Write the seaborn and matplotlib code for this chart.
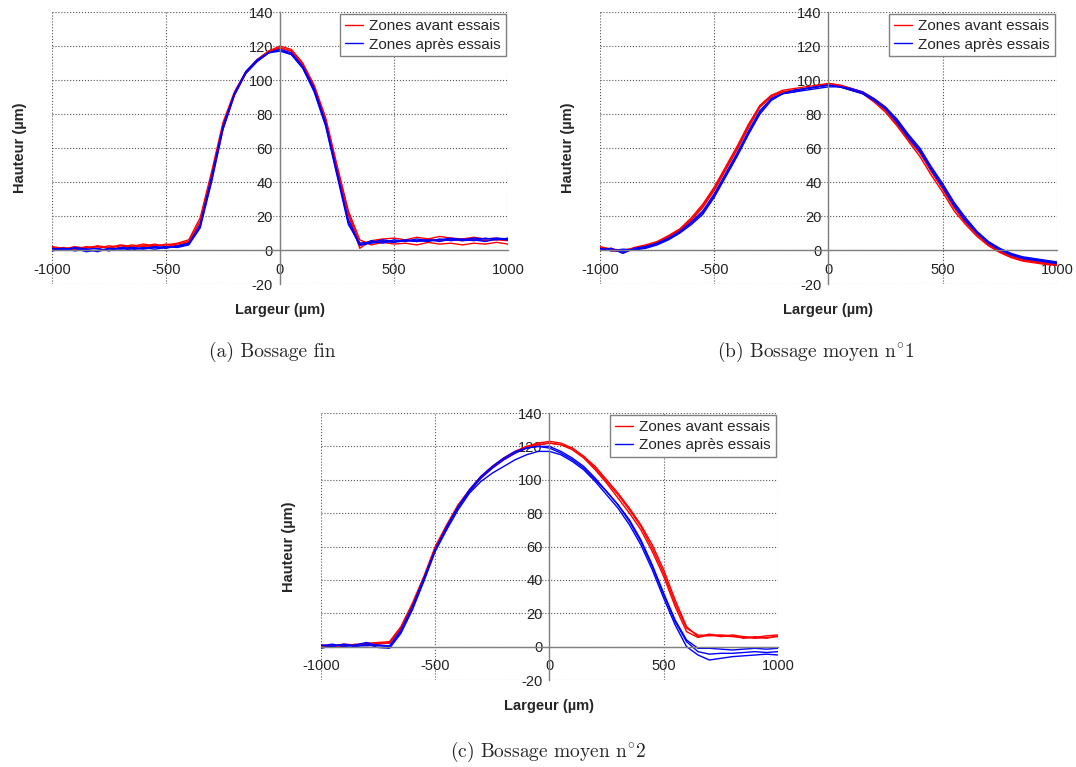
import matplotlib
matplotlib.use("Agg")
import matplotlib.pyplot as plt
import pandas as pd
import seaborn as sns

# largeur commune (µm), pas de 50
largeur = list(range(-1000, 1001, 50))

# (a) Bossage fin
fin_avant = [
    [1.5, 0.5, 2.0, 1.0, 2.5, 1.5, 3.0, 2.0, 3.5, 2.5, 3.0, 4.0, 6.0, 19, 46, 75, 93, 105, 112, 117, 120,
     118, 110, 97, 78, 50, 23, 6.0, 3.0, 4.5, 3.5, 4.0, 3.0, 4.5, 3.5, 4.0, 3.0, 4.0, 3.5, 4.5, 3.5],
    [0.0, 1.5, 0.5, 2.0, 1.0, 2.5, 1.5, 3.0, 2.0, 3.5, 2.0, 3.5, 5.0, 17, 43, 73, 92, 104, 111, 116, 119,
     117, 109, 96, 76, 48, 21, 1.0, 5.5, 6.5, 7.0, 6.0, 7.5, 6.5, 8.0, 7.0, 6.5, 7.5, 6.5, 7.0, 6.0],
    [2.0, 1.0, 0.0, 1.5, 2.0, 1.0, 2.5, 1.5, 2.5, 2.0, 3.5, 2.5, 4.5, 15, 41, 71, 91, 104, 112, 117, 119,
     117, 109, 95, 77, 49, 22, 4.0, 5.0, 5.5, 5.0, 6.0, 5.0, 6.5, 5.5, 6.0, 5.5, 6.5, 5.5, 6.0, 5.5],
]
fin_apres = [
    [0.5, 1.0, -0.5, 0.5, -1.0, 1.0, 0.5, 1.5, 1.0, 2.0, 1.0, 2.5, 4.0, 14, 42, 72, 92, 104, 111, 116, 118,
     115, 107, 94, 74, 45, 18, 3.0, 4.0, 5.0, 4.5, 5.5, 5.0, 6.0, 5.0, 6.5, 5.5, 6.0, 5.0, 6.5, 6.0],
    [-0.5, 0.5, 1.0, -1.0, 0.0, 0.5, 1.0, 0.0, 1.5, 0.5, 1.5, 2.0, 3.5, 15, 43, 73, 92, 105, 112, 116, 118,
     116, 108, 95, 75, 46, 16, 2.5, 5.5, 4.0, 6.0, 5.0, 6.5, 5.5, 6.0, 7.0, 6.0, 7.0, 6.5, 7.0, 6.5],
    [1.0, 0.0, 1.5, 0.5, 1.0, -0.5, 1.5, 1.0, 0.5, 1.5, 2.0, 1.5, 3.0, 13, 40, 71, 91, 104, 111, 116, 117,
     115, 107, 93, 73, 44, 15, 4.0, 4.5, 6.0, 5.0, 6.0, 5.5, 5.0, 6.5, 5.5, 6.5, 5.5, 7.0, 6.0, 7.0],
]

# (b) Bossage moyen n°1
moyen1_avant = [
    [1.5, -0.5, -1.0, 1.5, 3.0, 5.0, 8.5, 12.5, 19, 27, 37, 49, 61, 74, 85, 91, 94, 95, 96, 97, 98,
     97, 95, 92, 87, 81, 73, 64, 55, 44, 34, 23, 15, 8.0, 2.5, -1.5, -4.5, -6.5, -7.5, -8.5, -9.0],
    [0.5, 1.0, -1.5, 0.5, 2.0, 4.5, 8.0, 12.0, 18, 26, 36, 48, 60, 73, 85, 91, 93, 94, 95, 96, 98,
     97, 95, 93, 89, 84, 76, 67, 58, 47, 36, 25, 16.5, 9.0, 3.5, -0.5, -3.5, -5.5, -7.0, -8.0, -8.5],
    [2.0, 0.5, 0.0, 1.0, 2.5, 4.0, 7.5, 11.5, 17.5, 25, 35, 47, 59, 72, 84, 90, 93, 94, 95, 96, 97,
     96, 94, 92, 88, 82, 74, 65, 57, 46, 36, 25, 16, 9.5, 3.0, -1.0, -4.0, -6.0, -6.5, -7.5, -8.0],
]
moyen1_apres = [
    [0.5, 0.0, -1.0, 0.5, 1.5, 3.5, 6.5, 10.5, 16, 22, 32, 44, 56, 69, 81, 89, 92, 93, 94, 95, 96,
     96, 94, 92, 88, 83, 76, 67, 59, 48, 38, 27, 18, 10.5, 4.5, 0.5, -2.5, -4.5, -5.5, -6.5, -7.5],
    [1.0, -0.5, 0.5, 0.0, 1.0, 3.0, 6.0, 10.0, 15, 21, 31, 43, 55, 68, 80, 88, 92, 93, 95, 96, 97,
     96, 95, 93, 89, 84, 77, 68, 60, 49, 39, 28, 19, 11.0, 5.0, 1.0, -2.0, -4.0, -5.0, -6.0, -7.0],
    [0.0, 1.0, -2.0, 1.0, 2.0, 4.0, 7.0, 11.0, 16.5, 23, 33, 45, 57, 70, 82, 89, 92, 94, 95, 96, 97,
     96, 94, 92, 88, 83, 75, 66, 58, 47, 37, 26, 17, 10.0, 4.0, 0.0, -3.0, -5.0, -6.0, -7.0, -8.0],
]

# (c) Bossage moyen n°2
moyen2_avant = [
    [1.0, 0.5, 1.5, 1.0, 2.0, 2.5, 3.0, 12, 26, 42, 60, 73, 85, 94, 102, 108, 113, 117, 120, 122, 123,
     122, 119, 114, 108, 100, 92, 83, 73, 61, 46, 28, 12, 6.0, 7.5, 6.5, 6.0, 5.5, 5.0, 5.5, 6.0],
    [-0.5, 1.0, 0.0, 1.5, 1.0, 2.0, 2.0, 11, 25, 41, 59, 72, 84, 93, 101, 107, 112, 116, 119, 121, 122,
     121, 118, 113, 106, 98, 89, 80, 70, 57, 42, 24, 9.0, 5.5, 7.0, 6.0, 7.0, 6.0, 5.5, 6.5, 7.0],
    [0.5, -0.5, 1.0, 0.5, 1.5, 1.5, 2.5, 11.5, 25, 41, 59, 72, 84, 94, 102, 108, 113, 117, 120, 121, 122,
     121, 119, 114, 107, 99, 91, 82, 72, 59, 44, 26, 11, 7.0, 6.5, 7.0, 6.5, 5.0, 6.0, 5.0, 6.5],
]
moyen2_apres = [
    [0.5, 1.5, 0.0, 1.0, 2.5, 0.5, 0.0, 9.0, 23, 40, 58, 72, 84, 94, 102, 108, 113, 117, 119, 120, 120,
     117, 113, 108, 101, 93, 85, 75, 63, 48, 31, 15, 3.0, -3.0, -4.5, -4.0, -4.0, -3.5, -3.0, -3.5, -3.0],
    [-1.0, 0.5, 1.0, 0.0, 1.5, -0.5, -1.0, 8.0, 22, 39, 57, 70, 82, 92, 99, 104, 108, 112, 115, 117, 117,
     115, 111, 106, 99, 91, 83, 73, 61, 46, 29, 13, 0.0, -5.0, -8.0, -7.0, -6.0, -5.5, -5.0, -4.5, -5.0],
    [1.0, 0.0, 1.5, 0.5, 0.5, 1.0, 0.5, 10.0, 24, 41, 58, 71, 83, 93, 101, 107, 112, 116, 119, 120, 119,
     116, 112, 107, 100, 93, 85, 76, 64, 49, 32, 16, 4.0, -1.0, -1.0, -1.5, -2.0, -1.5, -1.0, -1.5, -1.0],
]

titres = ["(a) Bossage fin", r"(b) Bossage moyen n$^{\circ}$1", r"(c) Bossage moyen n$^{\circ}$2"]
zones = ["Zones avant essais", "Zones après essais"]
palette = {"Zones avant essais": "#ff0000", "Zones après essais": "#0000ff"}

sns.set_style("white")
plt.rcParams["font.family"] = ["Liberation Sans", "DejaVu Sans"]
plt.rcParams["axes.unicode_minus"] = False
plt.rcParams["mathtext.fontset"] = "cm"


def tracer(ax, avant, apres):
    morceaux = []
    for zone, courbes in zip(zones, [avant, apres]):
        for i, h in enumerate(courbes):
            morceaux.append(pd.DataFrame({"Largeur": largeur, "Hauteur": h,
                                          "zone": zone, "courbe": f"{zone} {i}"}))
    df = pd.concat(morceaux, ignore_index=True)
    sns.lineplot(data=df, x="Largeur", y="Hauteur", hue="zone", units="courbe",
                 estimator=None, palette=palette, lw=1.0, ax=ax)

    ax.set_xlim(-1000, 1000)
    ax.set_ylim(-20, 140)
    ax.set_xticks(range(-1000, 1001, 500))
    ax.set_yticks(range(-20, 141, 20))
    ax.grid(True, ls=":", color="#555555", lw=0.8)
    for gl in ax.get_xgridlines() + ax.get_ygridlines():
        gl.set_clip_on(False)
    ax.spines["left"].set_position(("data", 0))
    ax.spines["bottom"].set_position(("data", 0))
    for s in ["left", "bottom"]:
        ax.spines[s].set_color("#808080")
        ax.spines[s].set_linewidth(1.0)
    ax.spines["top"].set_visible(False)
    ax.spines["right"].set_visible(False)
    ax.tick_params(axis="both", direction="out", length=4, color="#808080",
                   labelsize=10.5, labelcolor="#222222")
    ax.tick_params(axis="y", pad=1)
    ax.tick_params(axis="x", pad=5)

    ax.set_xlabel("Largeur (µm)", fontsize=10.5, fontweight="bold")
    ax.set_ylabel("Hauteur (µm)", fontsize=10.5, fontweight="bold")
    ax.xaxis.set_label_coords(0.5, -0.07)
    ax.yaxis.set_label_coords(-0.055, 0.5)

    handles, labels = ax.get_legend_handles_labels()
    ax.legend(handles, labels, loc="upper right", fontsize=11, frameon=True,
              fancybox=False, edgecolor="#808080", framealpha=1,
              handlelength=1.2, handletextpad=0.4, borderpad=0.3,
              labelspacing=0.3, borderaxespad=0.15)


fig = plt.figure(figsize=(10.76, 7.67), dpi=100)
ax_a = fig.add_axes([0.0483, 0.6297, 0.4238, 0.3546])
ax_b = fig.add_axes([0.5576, 0.6297, 0.4247, 0.3546])
ax_c = fig.add_axes([0.2983, 0.1134, 0.4247, 0.3481])

tracer(ax_a, fin_avant, fin_apres)
tracer(ax_b, moyen1_avant, moyen1_apres)
tracer(ax_c, moyen2_avant, moyen2_apres)

serif = ["cmr10", "DejaVu Serif"]
fig.text(272 / 1076, 1 - 352 / 767, titres[0], ha="center", va="center", fontsize=14, family=serif)
fig.text(816 / 1076, 1 - 352 / 767, titres[1], ha="center", va="center", fontsize=14, family=serif)
fig.text(548 / 1076, 1 - 752 / 767, titres[2], ha="center", va="center", fontsize=14, family=serif)

fig.savefig("out.png", dpi=100)
